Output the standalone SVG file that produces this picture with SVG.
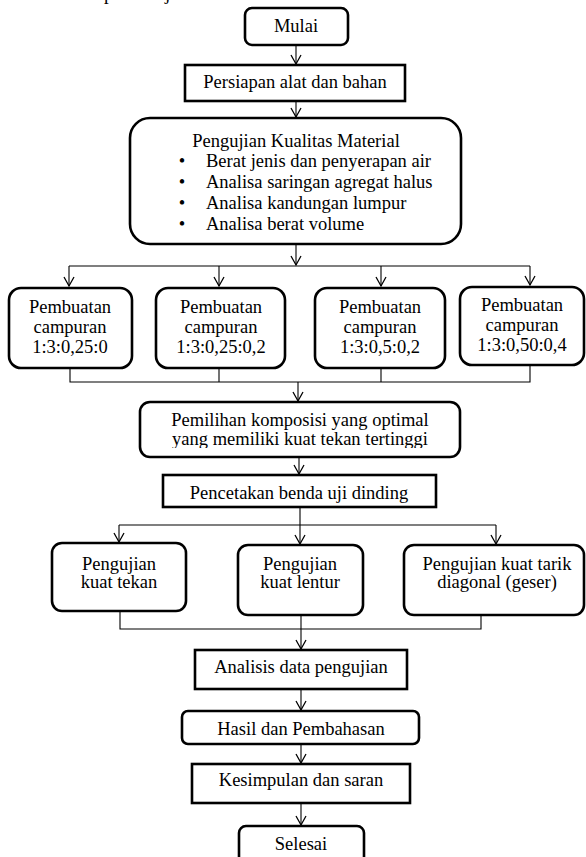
<svg xmlns="http://www.w3.org/2000/svg" width="586" height="857" viewBox="0 0 586 857">
<defs>
<style>
.box{fill:#fff;stroke:#000;stroke-width:2.6}
.t{font-family:"Liberation Serif","Times New Roman",serif;font-size:18.5px;fill:#000}
.c{text-anchor:middle}
.ln{fill:none;stroke:#000;stroke-width:1.1}
</style>
<marker id="ah" markerWidth="12" markerHeight="12" refX="0" refY="0" viewBox="-10 -6 12 12" orient="auto" markerUnits="userSpaceOnUse">
<path d="M-9,-5 L0,0 L-9,5" fill="none" stroke="#000" stroke-width="1.3"/>
</marker>
<clipPath id="clipPem"><rect x="140" y="402" width="320" height="46"/></clipPath>
<clipPath id="clipPen"><rect x="163" y="475" width="273" height="28"/></clipPath>
</defs>
<rect width="586" height="857" fill="#fff"/>
<text class="t" x="104" y="0" style="font-size:19px">p</text>
<text class="t" x="165" y="0" style="font-size:19px">j</text>
<g id="connectors">
<path class="ln" d="M296,45 V64" marker-end="url(#ah)"/>
<path class="ln" d="M296,101 V117" marker-end="url(#ah)"/>
<path class="ln" d="M296,244 V265" marker-end="url(#ah)"/>
<path class="ln" d="M69,266 H530"/>
<path class="ln" d="M69,266 V286" marker-end="url(#ah)"/>
<path class="ln" d="M219,266 V286" marker-end="url(#ah)"/>
<path class="ln" d="M381,266 V286" marker-end="url(#ah)"/>
<path class="ln" d="M530,266 V285" marker-end="url(#ah)"/>
<path class="ln" d="M70,368 V382 H530 V365 M219,368 V382 M381,368 V382"/>
<path class="ln" d="M298,382 V401" marker-end="url(#ah)"/>
<path class="ln" d="M299,457 V474" marker-end="url(#ah)"/>
<path class="ln" d="M300,507 V525 M119,525 H496"/>
<path class="ln" d="M119,525 V542" marker-end="url(#ah)"/>
<path class="ln" d="M300,525 V544" marker-end="url(#ah)"/>
<path class="ln" d="M496,525 V544" marker-end="url(#ah)"/>
<path class="ln" d="M120,611 V629 H481 V615"/>
<path class="ln" d="M301,615 V649" marker-end="url(#ah)"/>
<path class="ln" d="M301,689 V710" marker-end="url(#ah)"/>
<path class="ln" d="M301,744 V763" marker-end="url(#ah)"/>
<path class="ln" d="M301,803 V825" marker-end="url(#ah)"/>
</g>
<g id="mulai">
<rect class="box" x="245" y="8" width="103" height="37" rx="7"/>
<text class="t c" x="296" y="32">Mulai</text>
</g>
<g id="persiapan">
<rect class="box" x="185" y="65" width="220" height="36"/>
<text class="t c" x="295" y="88">Persiapan alat dan bahan</text>
</g>
<g id="pengujian-material">
<rect class="box" x="130" y="118" width="331" height="126" rx="20"/>
<text class="t c" x="296" y="147">Pengujian Kualitas Material</text>
<text class="t c" x="182" y="167">•</text>
<text class="t" x="206" y="167">Berat jenis dan penyerapan air</text>
<text class="t c" x="182" y="188">•</text>
<text class="t" x="206" y="188">Analisa saringan agregat halus</text>
<text class="t c" x="182" y="209">•</text>
<text class="t" x="206" y="209">Analisa kandungan lumpur</text>
<text class="t c" x="182" y="230">•</text>
<text class="t" x="206" y="230">Analisa berat volume</text>
</g>
<g id="campuran1">
<rect class="box" x="9" y="288" width="123" height="80" rx="12"/>
<text class="t c" x="70" y="313">Pembuatan</text>
<text class="t c" x="70" y="333">campuran</text>
<text class="t c" x="70" y="353">1:3:0,25:0</text>
</g>
<g id="campuran2">
<rect class="box" x="156" y="288" width="129" height="80" rx="12"/>
<text class="t c" x="221" y="313">Pembuatan</text>
<text class="t c" x="221" y="333">campuran</text>
<text class="t c" x="221" y="353">1:3:0,25:0,2</text>
</g>
<g id="campuran3">
<rect class="box" x="315" y="288" width="130" height="80" rx="12"/>
<text class="t c" x="380" y="313">Pembuatan</text>
<text class="t c" x="380" y="333">campuran</text>
<text class="t c" x="380" y="353">1:3:0,5:0,2</text>
</g>
<g id="campuran4">
<rect class="box" x="460" y="287" width="124" height="78" rx="12"/>
<text class="t c" x="522" y="311">Pembuatan</text>
<text class="t c" x="522" y="331">campuran</text>
<text class="t c" x="522" y="351">1:3:0,50:0,4</text>
</g>
<g id="pemilihan">
<rect class="box" x="140" y="402" width="320" height="55" rx="10"/>
<g clip-path="url(#clipPem)">
<text class="t c" x="300" y="426">Pemilihan komposisi yang optimal</text>
<text class="t c" x="300" y="445">yang memiliki kuat tekan tertinggi</text>
</g>
</g>
<g id="pencetakan">
<rect class="box" x="163" y="475" width="273" height="32"/>
<g clip-path="url(#clipPen)">
<text class="t c" x="299" y="499">Pencetakan benda uji dinding</text>
</g>
</g>
<g id="uji-tekan">
<rect class="box" x="52" y="543" width="134" height="68" rx="10"/>
<text class="t c" x="119" y="570">Pengujian</text>
<text class="t c" x="119" y="588">kuat tekan</text>
</g>
<g id="uji-lentur">
<rect class="box" x="238" y="545" width="125" height="70" rx="10"/>
<text class="t c" x="300" y="570">Pengujian</text>
<text class="t c" x="300" y="588">kuat lentur</text>
</g>
<g id="uji-tarik">
<rect class="box" x="404" y="545" width="180" height="70" rx="10"/>
<text class="t c" x="497" y="570">Pengujian kuat tarik</text>
<text class="t c" x="497" y="588">diagonal (geser)</text>
</g>
<g id="analisis">
<rect class="box" x="195" y="650" width="212" height="39"/>
<text class="t c" x="301" y="673">Analisis data pengujian</text>
</g>
<g id="hasil">
<rect class="box" x="182" y="711" width="237" height="33" rx="6"/>
<text class="t c" x="301" y="735">Hasil dan Pembahasan</text>
</g>
<g id="kesimpulan">
<rect class="box" x="192" y="764" width="218" height="39"/>
<text class="t c" x="301" y="786">Kesimpulan dan saran</text>
</g>
<g id="selesai">
<rect class="box" x="239" y="826" width="125" height="40" rx="7"/>
<text class="t c" x="301" y="850">Selesai</text>
</g>
</svg>
